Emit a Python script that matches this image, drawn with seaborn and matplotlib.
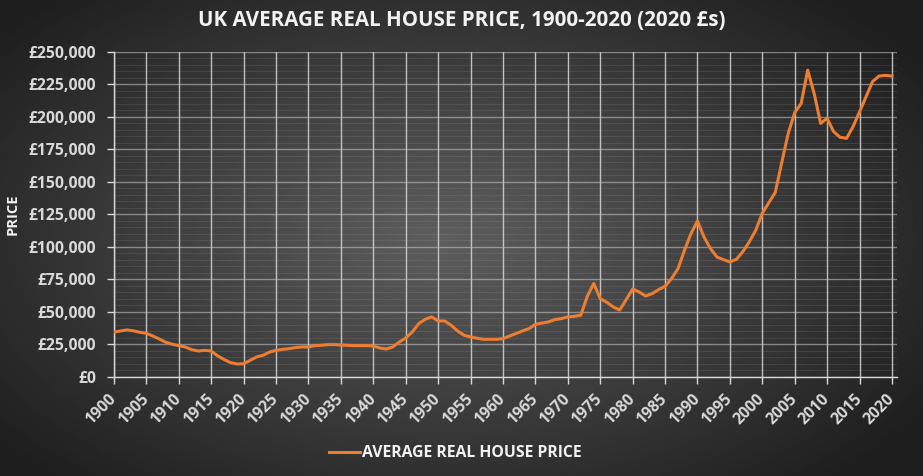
import numpy as np
import pandas as pd
import seaborn as sns
import matplotlib.pyplot as plt
from matplotlib.ticker import FuncFormatter, MultipleLocator
from matplotlib.lines import Line2D

# Average real house price (2020 £)
years = list(range(1900, 2021))
prices_k = [
    34.5, 35.4, 36.2, 35.5, 34.4, 33.6, 31.5, 29.2, 26.7, 25.2,   # 1900s
    24.1, 23.1, 21.0, 20.0, 20.5, 20.0, 16.2, 13.4, 11.0, 10.0,   # 1910s
    10.2, 12.8, 15.4, 16.7, 19.2, 20.5, 21.3, 21.8, 22.6, 23.1,   # 1920s
    23.1, 24.1, 24.4, 24.9, 24.9, 24.6, 24.4, 24.1, 24.1, 24.1,   # 1930s
    23.8, 22.3, 21.5, 23.1, 26.9, 30.0, 34.6, 41.0, 44.4, 46.2,   # 1940s
    43.1, 43.1, 39.8, 35.4, 32.1, 30.8, 29.8, 29.0, 29.0, 29.0,   # 1950s
    29.5, 31.5, 33.4, 35.4, 37.2, 40.5, 41.5, 42.3, 44.2, 44.9,   # 1960s
    46.2, 46.7, 47.5, 62.0, 72.0, 60.3, 57.5, 53.9, 51.5, 59.5,   # 1970s
    67.7, 65.4, 62.3, 64.1, 67.2, 69.8, 75.7, 83.4, 97.5, 110.3,  # 1980s
    120.0, 107.7, 98.8, 92.3, 90.3, 88.5, 90.5, 96.4, 104.0, 113.0,  # 1990s
    126.0, 134.0, 142.0, 165.0, 187.4, 203.3, 210.5, 236.0, 218.0, 195.0,  # 2000s
    199.0, 188.7, 184.4, 183.6, 192.6, 204.0, 215.6, 227.2, 231.5, 232.0,  # 2010s
    231.5,                                                          # 2020
]
df = pd.DataFrame({"year": years, "price": [p * 1000 for p in prices_k]})

plt.rcParams["font.family"] = ["Open Sans", "DejaVu Sans"]
plt.rcParams["font.weight"] = "bold"

fig = plt.figure(figsize=(9.23, 4.76), dpi=100)

# radial grey gradient behind everything
bg = fig.add_axes([0, 0, 1, 1], zorder=-10)
gx, gy = np.meshgrid(np.linspace(0, 1, 400), np.linspace(0, 1, 220))
r = np.sqrt(((gx - 0.48) / 0.5) ** 2 + ((gy - 0.5) / 0.55) ** 2) / np.sqrt(2)
shade = np.clip(94 - 72 * r, 30, 100) / 255
bg.imshow(shade, cmap="gray", vmin=0, vmax=1, aspect="auto", extent=[0, 1, 0, 1])
bg.axis("off")

ax = fig.add_axes([0.1235, 0.208, 0.8485, 0.6828])
ax.set_facecolor("none")

sns.lineplot(data=df, x="year", y="price", color="#ED7D31", linewidth=2.2, ax=ax, zorder=5)

ax.set_xlim(1900, 2020.8)
ax.set_ylim(0, 250000)
ax.xaxis.set_major_locator(MultipleLocator(5))
ax.yaxis.set_major_locator(MultipleLocator(25000))
ax.yaxis.set_minor_locator(MultipleLocator(5000))
ax.yaxis.set_major_formatter(FuncFormatter(lambda v, p: f"£{int(v):,}"))

ax.grid(axis="x", which="major", color="#d9d9d9", linewidth=1.0, alpha=0.85)
ax.grid(axis="y", which="major", color="#bfbfbf", linewidth=1.0, alpha=0.6)
ax.grid(axis="y", which="minor", color="#bfbfbf", linewidth=0.6, alpha=0.15)
ax.set_axisbelow(True)

for s in ["top", "right"]:
    ax.spines[s].set_visible(False)
for s in ["left", "bottom"]:
    ax.spines[s].set_color("#d9d9d9")
    ax.spines[s].set_linewidth(1.0)

ax.tick_params(axis="both", which="major", colors="#d9d9d9", length=5, width=1.0,
               labelcolor="#d9d9d9", labelsize=11.3)
ax.tick_params(axis="y", which="major", pad=8)
ax.tick_params(axis="x", which="major", pad=9)
ax.tick_params(axis="y", which="minor", length=0)
for lab in ax.get_xticklabels():
    lab.set_rotation(45)
    lab.set_ha("right")
    lab.set_va("center")
    lab.set_rotation_mode("anchor")
    lab.set_fontweight("bold")
for lab in ax.get_yticklabels():
    lab.set_fontweight("bold")

ax.set_xlabel("")
ax.set_ylabel("PRICE", color="#f2f2f2", fontsize=10.5, fontweight="bold")
ax.yaxis.set_label_coords(-0.12, 0.5)

fig.text(0.5, 0.957, "UK AVERAGE REAL HOUSE PRICE, 1900-2020 (2020 £s)",
         ha="center", va="center", color="#f2f2f2", fontsize=14.8, fontweight="bold")

handle = Line2D([], [], color="#ED7D31", linewidth=2.2)
fig.legend([handle], ["AVERAGE REAL HOUSE PRICE"], loc="center",
           bbox_to_anchor=(0.493, 0.048), frameon=False, handlelength=2.0,
           handletextpad=0.1, prop={"weight": "bold", "size": 11.3},
           labelcolor="#f2f2f2")

fig.savefig("out.png", dpi=100)
